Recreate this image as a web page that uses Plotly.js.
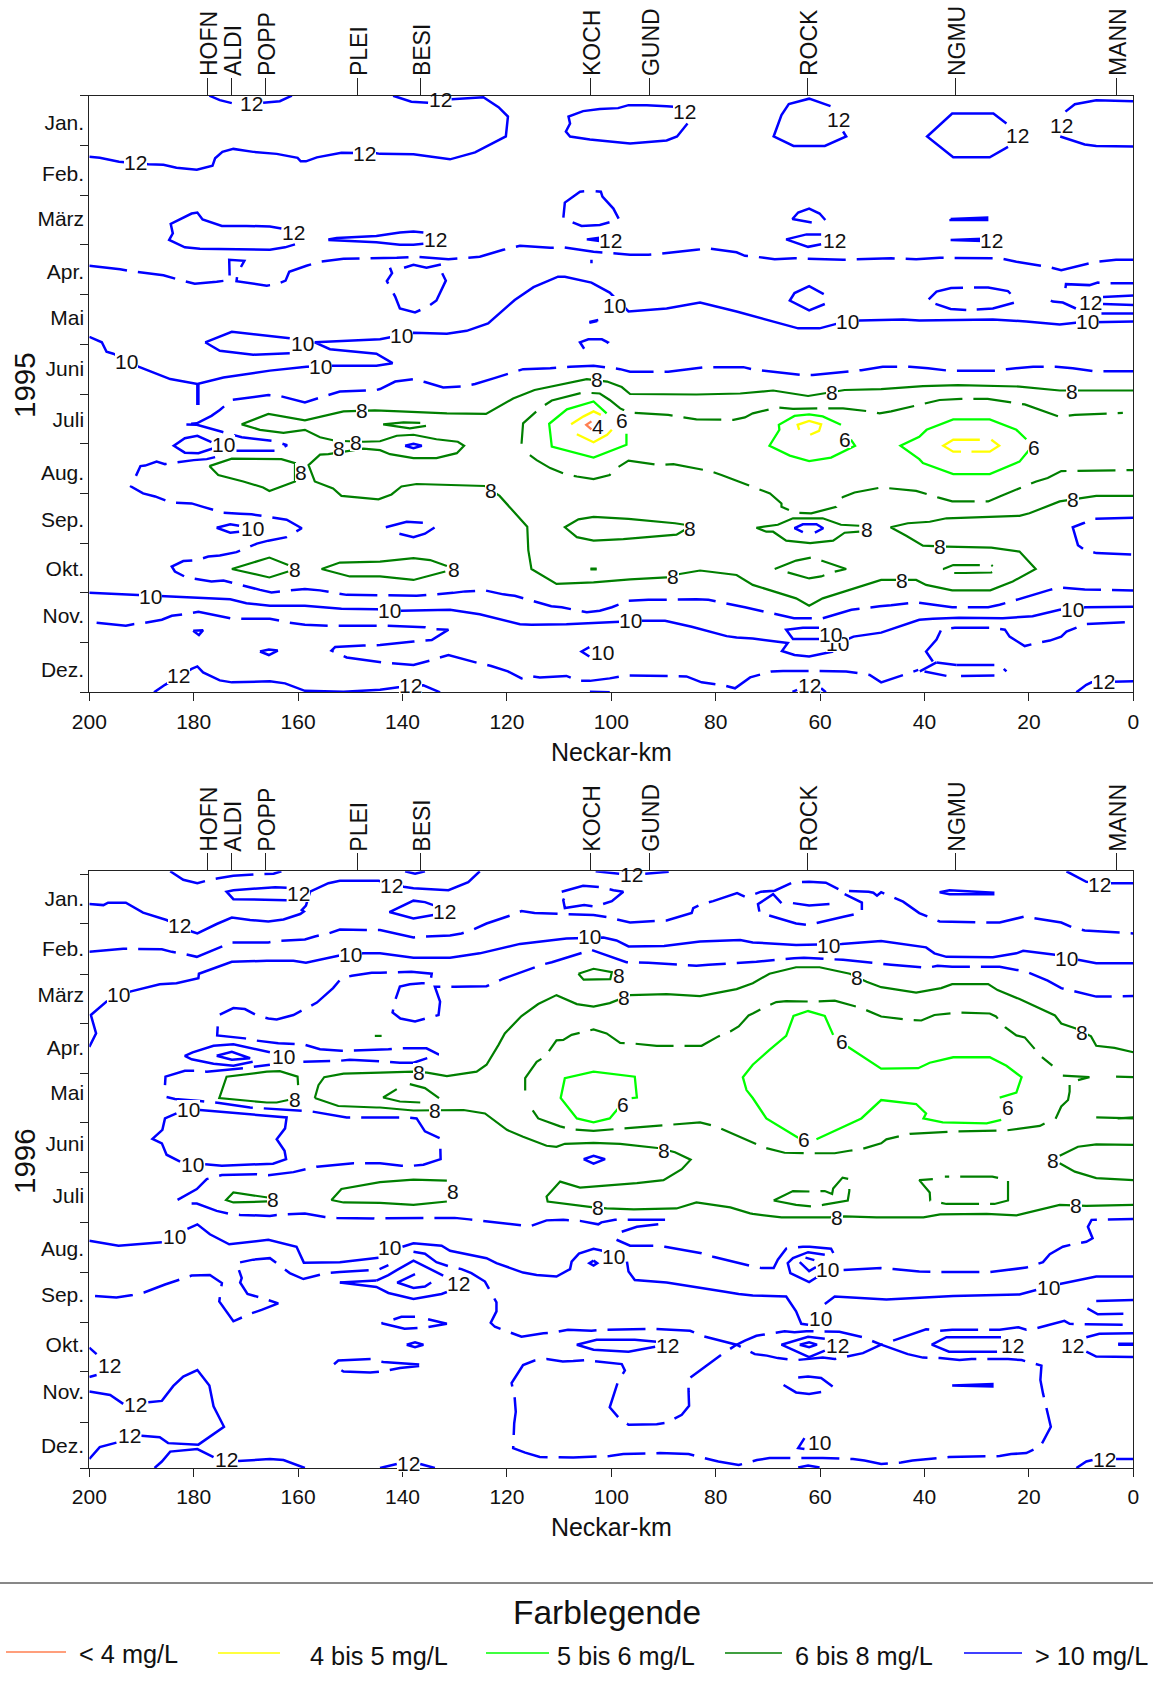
<!DOCTYPE html>
<html><head><meta charset="utf-8">
<script src="https://cdn.plot.ly/plotly-3.0.1.min.js"></script>
<style>html,body{margin:0;padding:0;background:#fff}#c{width:1153px;height:1686px}</style>
</head><body><div id="c"></div>
<script>
const monthNames=['Jan.','Feb.','März','Apr.','Mai','Juni','Juli','Aug.','Sep.','Okt.','Nov.','Dez.'];
const monthLabelPos=[.54,1.56,2.48,3.54,4.46,5.48,6.52,7.59,8.52,9.52,10.46,11.55];
const monthTicks95=[0,1,2,3,4,5,6,7,8,9,10,11,12];
const monthTicks96=[.06,1.05,2.07,3.06,4.07,5.05,6.05,7.07,8.06,9.07,10.05,11.08,12];
const kmTicks=[200,180,160,140,120,100,80,60,40,20,0];
const stationNames=['HOFN','ALDI','POPP','PLEI','BESI','KOCH','GUND','ROCK','NGMU','MANN'];
const stationKm=[177.3,172.8,166.3,148.6,136.5,103.9,92.7,62.45,34.1,3.3];

// contour lines: flat lists km,month,km,month,...
const blue95solid=[
[177,0,175,.09,172.7,.15],[166.7,.14,163.5,.11,161.2,0],
[200,1.23,198,1.25,194.3,1.33,188.7,1.38,185.8,1.39,183.3,1.45,179.4,1.49,176.4,1.41,175.9,1.26,174.5,1.13,172.4,1.07,168.6,1.13,164.1,1.17,160.1,1.25,159.5,1.32,158.5,1.32,156.4,1.24,151.7,1.15,145,1.16,144.3,1.17,137.9,1.18,133.8,1.23,130.9,1.28,126.1,1.14,120.2,.82,119.8,.42,121.6,.23,124.5,.03,130.6,.07],[135.1,.14,138.3,.12,141.8,0],
[85.4,.56,87.4,.82,89.4,.90,96.4,.96,104.1,.88,107.9,.82,108.7,.72,107.9,.56,108.2,.42,105.4,.31,102.2,.27,98.7,.25,96.7,.19,93.2,.19,89.4,.21,88,.22],
[58,.21,62.1,.06,66,.17,67.4,.39,68.9,.82,65.1,1.01,59.1,1.01,55,.82,55.6,.72],
[24.3,.56,26.8,.36,34.7,.36,39.5,.82,34.5,1.24,27.5,1.24,24,1.03],
[13,.32,11.2,.17,7.1,.09,0,.11],[14,.82,9.3,.98,7.1,1.01,0,1.02],
[163.2,2.67,165.4,2.63,169.9,2.62,174.6,2.62,178.3,2.49,179.3,2.35,180.4,2.37,184.4,2.58,184,2.77,184.7,2.9,181.7,3.05,178.8,3.08,165.4,3.1,162.5,3.05,160.6,2.99],
[154.2,2.89,152.6,2.86,145,2.82,140.5,2.75,137.9,2.73,136,2.75],[154.2,2.9,145,2.95,140.5,3,137.9,3,136,2.98],
[104.7,2.89,102.5,2.86,102.5,2.92,104.7,2.89],[103.8,3.3,103.8,3.37],
[61.6,2.55,64.2,2.5,65.3,2.48,64.2,2.35,62.1,2.27,60.1,2.37,59,2.5],
[59.8,2.79,62.6,2.79,66.5,2.89,62.3,3.04,59.8,2.99],
[35,2.48,28,2.45,28,2.5,35,2.5,35,2.48],[35,2.9,29,2.88,29,2.92,35,2.9],
[200,4.85,197.6,4.96,196.7,5.15,195.4,5.19,190.6,5.45,184.5,5.7,179.3,5.8,174.3,5.67,165.4,5.53,158.4,5.45,153.6,5.43,145,5.43,141.9,5.38,145,5.19,153.9,5.1,156.8,4.96,144.3,4.9,142.5,4.86,137.9,4.77,131.5,4.79,127.7,4.73,123.6,4.58,118.5,4.11,114.9,3.85,110.2,3.64,108.9,3.64,103.8,3.76,100.3,3.96,96.7,4.34,89.4,4.28,83,4.16,76,4.34,72.9,4.43,68.7,4.54,64.2,4.68,60.1,4.68,56.9,4.59,52.4,4.52,44.1,4.5,41,4.52,26.9,4.5,20.5,4.54,14.1,4.6,10.6,4.56,0,4.54],
[177.8,4.96,172.7,4.75,161.6,4.88],[161.6,5.18,168.6,5.21,175,5.13,177.8,4.96],
[179.3,5.8,179.3,6.22],[179.1,5.8,179.1,6.22],
[104.2,4.55,102.5,4.51,104.2,4.55],[104.2,4.57,102.7,4.53],
[59.3,3.99,62.1,3.83,64.9,3.97,65.8,4.12,62.1,4.32,59.1,4.19],
[15.8,4.12,15.4,4.14,13.5,4.16,11,4.28],[5.8,4.05,0,4.02],[5.8,4.19,0,4.21],[6.1,4.38,0,4.38],
[176.2,7.09,179.1,7.19,181.7,7.18,183.8,7.04,181.7,6.89,179.3,6.84,176.6,6.97],
[175.6,8.69,173,8.62,171.3,8.65],[171.3,8.77,173,8.79,175.6,8.69],
[180.1,10.76,179,10.85,178.2,10.75,180.1,10.76],[167.3,11.18,165.6,11.25,163.9,11.16,165.6,11.14,167.3,11.18],
[139.5,7.04,137.9,7,136.3,7.04,137.9,7.09,139.5,7.04],
[63.3,8.78,64.9,8.7,63.3,8.62,60.7,8.62,59.4,8.7,61,8.79],
[200,10,190.6,10.04,185.8,10.07,179.4,10.09,173,10.13,169.9,10.21,165.4,10.26,158.7,10.26,151.7,10.32,145,10.33,140.2,10.36,130.9,10.34,125.2,10.43,117.5,10.63,115.3,10.64,108.6,10.63,98.3,10.59,94.2,10.56,89.7,10.56,84.6,10.68,77.9,10.87,76,10.9,72.9,10.92,67.4,11,66.2,11.01,67.3,11.17,64.9,11.25,62.1,11.28,57.5,11.18],
[54.7,10.93,53.6,10.88,48.3,10.8,41,10.54,38.4,10.52,33.4,10.5,25,10.51,19.3,10.47,14.1,10.34,9.1,10.29,0,10.28],
[60.1,10.7,63.3,10.7,66.5,10.74,65.2,10.93,60.1,10.93],
[187.6,12,185.5,11.85,180.4,11.53,179.3,11.48,178.2,11.6,175,11.76,172.7,11.8,165.4,11.78,162.5,11.82,158.7,11.97,151.3,11.99,144.3,11.95,140.8,11.9,136,11.86,132.8,12],
[104.1,11.99,100.3,12],[104.2,11.09,105.7,11.18,104.2,11.28],
[65.3,11.99,64.4,11.95],[59.8,11.92,58.9,12],[10.9,12,9,11.85,8,11.8,3.3,11.78,0,11.78]
];
const blue95dash=[
[200,3.42,194.1,3.49,192.1,3.53,185.8,3.61,182.6,3.71,179.8,3.78,175.6,3.74,173.1,3.71,173.2,3.3,170.3,3.32,171.6,3.57,171.8,3.73,166,3.82,164.1,3.79,162.4,3.72,161.7,3.54,158.4,3.42,155.8,3.34,151.3,3.28,144.3,3.27,141.1,3.26,137.3,3.24,131.2,3.29,125.2,3.24,120.7,3.1,117.5,3.02,111.7,3.06,109.2,3.05,103.4,3.14,99.6,3.17,96.4,3.2,92.9,3.2,90.7,3.18,83.7,3.1,81.4,3.07,76,3.15,74.4,3.22,72.2,3.24,68.7,3.29,64.9,3.27,55.6,3.3,46.4,3.27,41.6,3.29,37.1,3.26,27.8,3.27,25.6,3.27,22.4,3.34,18.6,3.4,16.4,3.44,13.8,3.51,9.3,3.4,7.1,3.34,3.3,3.3,0,3.3],
[103,1.92,102,1.93,101.7,2.03,99.6,2.27,98.5,2.49,102.2,2.6,105.7,2.62,109.2,2.47,108.9,2.15,106,1.93,104.7,1.92],
[132.4,3.57,131.7,3.72,133.5,4.12,135.1,4.24,137.6,4.36,140.5,4.28,141.4,4.04,143,3.73,142,3.57,142.4,3.46],[139.7,3.46,137.9,3.4,135.4,3.46,132.5,3.39],
[30,4.3,26.9,4.28,22.7,4.16,23,4.04,24,3.93,27.8,3.86,30.4,3.86,32.3,3.86,34.9,3.87,37.7,3.94,39.5,4.13,35,4.29,32,4.31],
[13,3.87,12.9,3.79,8.4,3.81,6.8,3.76,4.8,3.77,0,3.77],
[165.1,6.94,170.8,6.87,174.6,6.76,179.4,6.62,182,6.61,179.4,6.59,176.6,6.44,175,6.32,172.7,6.12,165.7,6.02,163.5,6.04,158.7,6.17,154.2,6.02,152,5.95,145,5.92,144.3,5.9,141.4,5.75,137.9,5.7,135.7,5.76,132.2,5.87,128.7,5.85,126.1,5.8,122.4,5.68,120,5.6,116.9,5.5,111.7,5.48,107.9,5.45,103.4,5.43,100.5,5.47,98.3,5.5,96.4,5.55,91.3,5.55,89.1,5.55,86.8,5.52,82,5.46,79.8,5.46,74.7,5.46,72.7,5.51,71,5.53,63.3,5.62,61.4,5.62,54.3,5.55,52.1,5.52,48,5.45,42.8,5.45,39.3,5.48,35.5,5.53,26.3,5.53,24.3,5.5,19.2,5.45,14.8,5.45,11.6,5.48,7.7,5.54,0,5.54],
[105.2,5.09,106,4.96,104.4,4.9,101.8,4.9,100.7,4.96,102.5,5.11],
[171.8,7.14,164.1,7.14,162.1,7.03,163,7],
[175.9,7.27,177.5,7.31,180,7.33,185.5,7.41,187.1,7.36,189.3,7.44,190.2,7.45,192,7.86,189.7,8,187.4,8.06,184.4,8.18,180.4,8.2,178.2,8.27,174.3,8.39,171.1,8.41,168.9,8.42,162.2,8.53,159.3,8.7,162.2,8.88,165.7,8.95,167.9,9.01,171.8,9.18,175,9.25,177.2,9.27,179.4,9.34,182,9.36,184.2,9.47,183.6,9.57,181.4,9.69,176.6,9.77,174.3,9.75,171.8,9.82,167.3,9.94,165.1,9.99,158.7,9.92,155.8,9.95,150.7,10.04,142.7,10.05,137.3,10.06,130.3,10,128,9.97,124.2,9.95,120.7,10.03,118.5,10.06,111.5,10.27,109.5,10.29,104.7,10.39,102.2,10.36,99.9,10.29,96.7,10.16,92.9,10.14,83.7,10.13,81.4,10.14,74.4,10.29,72.2,10.34,65,10.51,59.5,10.51,54,10.34,48.6,10.27,46.4,10.25,41.6,10.19,37.1,10.25,34.7,10.29,27.8,10.29,25.6,10.24,16,9.94,14.1,9.89,9.3,9.93,0,9.95],
[143.2,8.68,139.2,8.57,136.1,8.59],[140.6,8.81,137.9,8.88,135.7,8.81,133.8,8.68],
[0,8.49,7.4,8.51,9.6,8.6,11.6,8.68,10.6,9.04,9.3,9.14,7.1,9.2,0,9.23],
[198.6,10.6,193,10.66,191.6,10.63,189.3,10.6,186.1,10.54,184.2,10.46,182,10.43,180.1,10.39,179.1,10.38,173,10.51,170.8,10.52,165.4,10.52,163.8,10.56,161.6,10.6,158.7,10.64,154.2,10.66,145,10.66,142.9,10.66,135.7,10.69,133.8,10.73,131.2,10.74,134.4,10.95,137.9,10.98,144.3,11.05,147.5,11.06,152.9,11.09,153.6,11.16,150.7,11.3,143.7,11.4,141.1,11.42,137.9,11.45,134.7,11.36,131.2,11.25,125.2,11.42,123,11.47,119.8,11.58,117.2,11.72,115.6,11.67,113.7,11.7,108.6,11.67,106.3,11.77,104.1,11.77,100.3,11.72,97.1,11.66,87.8,11.67,85.6,11.68,82.7,11.8,78.5,11.86,76.3,11.92,73.4,11.7,69.3,11.58,67.1,11.57,60.1,11.57,55,11.58,50.5,11.65,48.3,11.8,41.2,11.55],
[37.7,11.4,40.9,11.58],[33.9,11.45,37.7,11.4],[33.9,11.45,25.6,11.45,24.3,11.58],[40,11.58,35.8,11.67],[33,11.67,26.6,11.66],
[38.4,11.38,39.7,11.18,37.7,10.94,36.8,10.74,34.2,10.7,27,10.7,24.6,10.74,23.7,10.88,20.8,11.07,18.2,11,16,10.96,13.8,10.88,12.8,10.78,9.3,10.63,0,10.58]
];
const green95solid=[
[0,5.93,14.1,5.93,21.8,5.85,33.6,5.82,40.3,5.84,48.3,5.9,55.3,5.92,59.1,5.99,62.3,6.04,69,5.93,75.3,5.99,83.7,6.01,96.4,6,98,5.86,100.8,5.75,104.7,5.7,114.7,5.92,118.8,6.09,124,6.4,131.5,6.39,137.9,6.37,140.5,6.35,145.3,6.33,151.3,6.35,158.7,6.53,165.7,6.4,170.8,6.61,167.3,6.72,162.8,6.78,158.7,6.72,155.8,6.87,152.9,6.94,147.5,6.96,144.3,6.95,141.1,6.84,137.9,6.82,133.5,6.91,129.4,6.96,128.2,7.04,129.6,7.19,133.5,7.29,137.9,7.29,142.4,7.21,144.3,7.13,147.5,7.1,154.2,7.21,155.8,7.22,158,7.43,156.8,7.76,153.3,7.9,151.7,8.05,144.6,8.12,142.1,8.02,140.2,7.86,137.3,7.81,131.5,7.83,124.2,7.85,121.4,8.05,116.1,8.67,115.9,9.14,115.3,9.52,110.5,9.82,107.3,9.81,103.4,9.79,96.4,9.73,89.4,9.69,86.9,9.62,83,9.55,76,9.64,74.1,9.77,72.9,9.84,64.6,10.11,62.1,10.26,59.5,10.11,48.3,9.74,41.6,9.74,39.7,9.84,34.7,9.95,27.4,9.95,23.1,9.77,18.7,9.52,21.8,9.17,27.2,9.09,35.8,9.07,40.3,9.05,43.5,8.85,46.5,8.68,43.2,8.6,39,8.57,35.8,8.5,21.8,8.45,19.9,8.4,14.1,8.16,7.1,8.05,0,8.05],
[177,7.45,172.7,7.3,163.2,7.31,160.6,7.39,160.6,7.76,165.5,7.95,166.7,7.88,170.5,7.76,175.3,7.63,177,7.45],
[172.7,9.52,165.5,9.29,161.9,9.44],[172.7,9.52,165.5,9.69,161.9,9.57],
[131.5,9.46,134.7,9.34,137.9,9.3,144.3,9.37,152,9.39,155.5,9.52,150.1,9.67,144.3,9.67,137.9,9.74,131.8,9.57],
[136.6,6.58,139.8,6.57,143.7,6.61,138.6,6.69,135.5,6.64],
[85.9,8.63,87.8,8.6,96.7,8.51,103.4,8.47,106.3,8.52,108.9,8.68,106.6,8.88,103.4,8.95,97.7,8.92,87.5,8.83,85.9,8.73],
[104,9.51,102.8,9.51],[104,9.53,102.8,9.53],
[72.2,8.69,68.1,8.63,65.2,8.5,59.5,8.5,56,8.63,52.5,8.65],[52.5,8.77,55.3,8.79,57.5,8.95,61.9,9,66.5,8.95,69,8.77,70.3,8.77,72.2,8.69]
];
const green95dash=[
[117.2,7,116.9,6.59,113.7,6.29,111.4,6.13,105.4,5.97,102.2,5.99,100.3,6.12,98.3,6.29,96.7,6.37,92.9,6.39,89.1,6.42,83.7,6.51,76.6,6.52,74.4,6.47,72.9,6.39,68.1,6.27,65.2,6.3,60.1,6.29,55.6,6.29,50.5,6.35,48.6,6.39,46.4,6.35,39.4,6.17,37.1,6.12,33,6.1,27.9,6.1,20.8,6.21,18.6,6.29,14.1,6.46,11.2,6.42,9,6.41,2,6.38],
[115.6,7.23,114.3,7.33,111.7,7.49,108.9,7.61,106.6,7.66,103.4,7.71,100.3,7.63,99.6,7.53,96.7,7.34,90.7,7.43,88.1,7.41,81.1,7.55,78.9,7.63,71.9,7.9,69.6,8,67.4,8.2,67.4,8.27,64.6,8.39,61.7,8.4,56.9,8.27,56.6,8.15,55.6,8.07,53.4,7.98,48.3,7.88,46.4,7.9,41.6,7.95,37.1,8.09,34.7,8.16,27.8,8.16,25.6,8.06,18.6,7.76,16.4,7.69,13.8,7.55,0,7.53],
[68.7,9.52,64.6,9.35,61.7,9.29,59.5,9.36,55,9.52,57.5,9.58,59.8,9.67,62.1,9.71,66.8,9.57],
[29.4,9.44,34.5,9.44,36.4,9.52,34.5,9.6,32.3,9.6,27.2,9.59,26.1,9.52,27.2,9.44]
];
const lime95=[
[100.9,6.39,103.4,6.15,108.5,6.31,111.9,6.6,111.4,7.06,103.4,7.28,97.1,7.02,97.1,6.8],
[56,6.62,59.5,6.45,62.1,6.41,64.9,6.44,67.9,6.62,67.8,6.72,69.7,7.04,65.8,7.24,62.1,7.35,57.9,7.28,53.3,7.04,54.1,6.92],
[20.5,6.91,22.4,6.72,27.5,6.51,34.5,6.51,39.6,6.72,41,6.86,44.6,7.04,41,7.31,40.3,7.39,34.5,7.61,27.5,7.61,21.8,7.36,20,7.13]
];
const yellow95=[
[107.7,6.61,105.3,6.45,103.4,6.35,102,6.42],[99.9,6.72,100.8,6.82,103.4,6.97,106.6,6.81],
[64,6.72,64.3,6.62,62.1,6.54,59.8,6.61,60.2,6.74,61.9,6.82],
[29.4,6.92,34.5,6.92,36.4,7.04,34.5,7.16,33,7.16],[31,7.16,27.5,7.16,25.7,7.04,27.2,6.92]
];
const orange95=[[103.8,6.55,104.8,6.62,103.8,6.71]];
const labels95=[
['12',168.9,.14],['12',191.1,1.33],['12',147.2,1.16],['12',160.9,2.75],['10',159.1,4.98],['10',192.8,5.34],['10',155.8,5.44],['10',140.2,4.81],['12',132.8,.07],['12',85.9,.31],['12',133.6,2.88],['12',100.1,2.9],['10',99.3,4.21],['8',102.7,5.7],['12',56.4,.47],['12',22.1,.79],['12',13.8,.59],['12',57.3,2.9],['12',27.2,2.9],['10',54.7,4.53],['12',8.2,4.14],['10',8.7,4.54],['8',57.7,5.95],['8',11.7,5.93],
['8',147.8,6.33],['10',174.2,7],['8',152.1,7.09],['8',148.9,6.96],['8',159.5,7.56],['10',168.8,8.69],['8',160.6,9.52],['10',188.2,10.06],['10',142.4,10.34],['12',183,11.65],['4',102.6,6.64],['6',98,6.53],['8',123,7.93],['8',85,8.69],['8',130.1,9.51],['8',88.2,9.67],['10',96.4,10.55],['10',101.6,11.18],['12',138.4,11.85],['6',55.3,6.9],['6',19,7.06],['8',11.6,8.12],['8',51.1,8.71],['8',37.1,9.05],['8',44.3,9.74],['10',11.6,10.32],['10',56.6,11],['10',58,10.83],['12',62,11.85],['12',5.7,11.78]
];

const blue96solid=[
[162.2,.33,164.4,.32,172.4,.38,173.7,.41,172.4,.56,162.2,.58],
[200,.66,197.3,.68,196.4,.63,193,.63,189.7,.83,185.2,.98,180.4,1.21,179.3,1.25,175.6,1.06,172.7,.93,169.2,.98,165.7,1.01,162.8,.97,159.6,.86,158.9,.81,159.3,.78,158.5,.69,157.7,.41,154.2,.24,152,.19,144.6,.19,139.8,.31,137.9,.34,131.2,.38,127.4,.22,125.2,0],
[139.5,0,137.6,.05,135.7,0],
[134.1,.68,135.7,.62,137.9,.59,142.5,.82,137.9,.95,134.1,.88],
[103,0,98.5,.05],[93.5,.05,89,.01],
[26.6,.43,32,.39,35.2,.38,37.1,.42,35.2,.46,26.6,.46],
[12.8,0,9,.21,4.2,.24,0,.24],
[200,3.53,198.7,3.26,199.7,2.89,196.7,2.62,192.2,2.42,186.5,2.27,183.3,2.25,179.1,2.15,179,2.06,172.7,1.82,166,1.8,160.9,1.8,158.5,1.84,152.3,1.7,147.5,1.65,144.3,1.65,137.9,1.74,130.9,1.74,125.2,1.65,117.5,1.46,108.6,1.35,101.5,1.33,99,1.39,96.7,1.51,89.9,1.5,83,1.41,75.3,1.38,72.9,1.43,64.6,1.48,55.9,1.46,48.3,1.4,41,1.5,39.7,1.53,38.1,1.65,35.8,1.72,26.9,1.73,22.4,1.65,21.1,1.6,15,1.68,10.6,1.78,7.1,1.85,0,1.85],
[165.4,3.64,172.4,3.48,176.2,3.51,180.2,3.64,181.7,3.71,180.4,3.78,176.2,3.87,172.4,3.91,168.7,3.83],
[175.6,3.71,172.7,3.63,169.2,3.76,172.7,3.79,175.6,3.71],
[183.3,4.87,185.5,4.97,186,5.2,187.9,5.38,186.1,5.47,185.2,5.7,182.6,5.84],[177.8,5.89,174.6,5.92,164.8,5.88,162.3,5.79,162.6,5.62,164,5.4,164.1,5.39,162.5,5.17,162.2,4.95,178.8,4.8],
[200,7.43,194.4,7.53,186.1,7.46],[181.2,7.19,179.3,7.1,176.9,7.3,173.2,7.5,165.7,7.41,160.3,7.55,158.9,7.87,152,7.86,144.6,7.77],[140,7.55,137.9,7.48,132.5,7.53,130.9,7.63,123.9,7.78,122,7.88,116.9,8.07,114.3,8.12,110.5,8.15,107.9,8,107.6,7.85,106.2,7.69,103.4,7.59,101.7,7.63],[97,7.85,96.7,8.05,95.5,8.22,89.4,8.27,78.5,8.45,75.6,8.5,72.9,8.53,66.5,8.55,64.6,8.85,63.6,9.1,62.3,9.12],
[59.1,8.7,57.2,8.55,47.3,8.61,34.5,8.54,21.8,8.51,18.6,8.42],[14.1,8.3,7.1,8.15,0,8.15],
[105.3,5.79,103.4,5.72,101.2,5.79,103.4,5.88,105.3,5.79],
[200,10.46,196,10.53,193.5,10.71],[188.7,10.68,186.1,10.65,183.9,10.35,182,10.16,179.3,10.03,177,10.34,176.2,10.76,174.2,11.17,179.1,11.53,184.9,11.5,186.5,11.38,190,11.35],[194.8,11.49,198,11.58,200,11.82],
[187.5,12,186.1,11.87,184.5,11.67,179.3,11.62,176.2,11.78],[171.5,11.86,165.4,11.82,162.8,11.84,158.7,12],
[144.3,12,141.1,11.92],[136.6,11.92,133.8,12],
[145,8.23,142.7,8.12,141.1,8.02,137.9,7.83,132.2,8.13],[152,8.27,145,8.23],[152,8.27,145,8.36,142.7,8.48,140.5,8.53,137.9,8.6,132.5,8.5,131.5,8.46],
[137.6,8.1,141,8.27,137.9,8.38,135.7,8.35,134.5,8.27],
[139.2,9.52,137.6,9.47,136,9.52,137.6,9.57,139.2,9.52],
[91.3,9.46,95.5,9.42,102.8,9.42,106.6,9.52,103.4,9.62,96.7,9.66,91.6,9.56],
[103.4,7.83,102.7,7.88,103.4,7.93,104.2,7.88,103.4,7.83],
[59.1,9.4,62.3,9.36,67.4,9.52,62.1,9.77,59.1,9.64],[63.9,9.52,62.1,9.47,60.6,9.52,62.1,9.57,63.9,9.52],
[25,9.37,35.8,9.37,38.6,9.52,35.3,9.66,26.1,9.66],
[9,9.37,6.5,9.3,0,9.29],[9,9.66,7.1,9.76,0,9.77],[2.9,9.52,0,9.52],[2.9,9.5,0,9.5],
[7.1,8.64,0,8.62],[8.8,8.79,6.8,8.91,1.9,8.9],
[59.1,7.71,62.3,7.66,65.2,7.78,66.2,7.88,65.7,8.08,62.1,8.26,60.4,8.15],[62.8,7.77,61.1,7.82],[63.9,7.86,62.1,8.04,60.8,7.96],
[57.6,10.36,59.8,10.19,62.3,10.16,64.2,10.18],[67,10.33,64.6,10.48,62.1,10.51,59.8,10.47],
[34.7,10.34,27,10.31,27,10.36,34.7,10.34],[63,11.4,64.2,11.6,63,11.62],[64.2,11.99,62.3,11.95,60.1,11.99],
[10.9,12,9,11.87,7.8,11.84],[3.3,11.82,0,11.82]
];
const blue96dash=[
[184.5,0,182,.17,179.3,.24,176.9,.17,175.3,.14,172.4,.09,167.9,.06,164.7,.05,163.2,0],
[200,1.62,193.5,1.56,191.6,1.56,186.1,1.57,184.2,1.62,182.3,1.65,179.4,1.72,175,1.53,172.7,1.43,165.7,1.43,163.8,1.4,158.7,1.37,156.8,1.31,154.2,1.25,152,1.17,147.2,1.18,145,1.17,144.3,1.18,137.9,1.33,135.7,1.31,130.9,1.29,128.7,1.25,126.4,1.17,123.9,1.05,119.4,.89,117.2,.8,114.7,.84,110.5,.86,103.4,.88,100.9,.92,98.7,.97,96.4,1.03,91.6,1,89.4,.99,84.6,.84,84.3,.74,82.7,.66,80.5,.6,75.9,.44,74.4,.51,73.6,.5,71.3,.41,68.7,.39,65.2,.22,62.1,.21,58.9,.23,55.9,.39,50.7,.41,49.8,.43,49.1,.49,48.3,.42,46.4,.51,44.1,.61,41,.84,37.1,1.01,27.8,1.03,25.6,1.03,20.8,.91,18.6,.95,16.4,.99,13.8,1.03,11.6,1.13,9.3,1.19,0,1.25],
[109.5,.41,105.4,.29,101.9,.32,99.6,.38,97.7,.41,99.9,.6,103.1,.71,105.2,.68,108.9,.74,109.2,.58,108.6,.44,109.5,.41],
[67.4,.64,69,.46,71.9,.66,71.6,.83,64.6,1.05,62.3,1.08,55.3,.91,53.4,.86,52,.83,52,.63,55.3,.46],
[65.2,.64,62.1,.69,58.2,.66],
[175,2.88,172.4,2.75,170.2,2.77,167.9,2.9,165.7,2.96,164.1,2.98,160.9,2.89,158.7,2.77,156.4,2.64,153.3,2.35,151.7,2.15,149.7,2.1,145.9,2.04,144.3,2.04,140.5,2.03,138.3,2.02,134.4,2.06,134.7,2.25,136.3,2.25,138.6,2.27,140.5,2.32,141.4,2.59,141.9,2.84,140.4,2.96,137.6,3.02,133.1,2.89,132.8,2.62,133.8,2.32,130,2.32,123.9,2.31,120.7,2.16,118.5,2.08,113,1.87,111.4,1.83,109.2,1.76,103.8,1.58,102.2,1.64,99.9,1.73,97.1,1.83,92.9,1.84,83.7,1.9,81.4,1.88,74.4,1.84,72.2,1.82,65,1.75,63.1,1.74,55.6,1.78,46.4,1.88,39.4,1.94,37.5,1.9,34.7,1.92,25.6,1.92,20.5,2.02,18.6,2.1,16.4,2.2,13.8,2.35,9.3,2.47,7.1,2.52,0,2.51],
[175.4,3.12,175.5,3.3,170.2,3.36,168.3,3.4,163.8,3.46,159,3.48,155.8,3.58,151.7,3.61,142.7,3.58,140.5,3.56,135.4,3.56,133.1,3.68,137.9,3.85,140.5,3.85,142.7,3.83,150.1,3.79,152,3.81,159,3.83],
[185.5,4.3,185.4,4.13,181.7,4.01,179.8,4.01,177.5,4.03,170.5,3.96,165.4,3.89],
[185.2,4.54,183.6,4.58,178.8,4.62,175.1,4.66,169.2,4.75,166.7,4.77,161.6,4.8,157.4,4.83,150.7,4.95,141.1,4.95,138.9,4.95,137.3,4.97,135.7,5.23,132.8,5.37,132.8,5.64,132.7,5.79,136,5.9,137.9,5.92,140.2,5.92,144.3,5.87,147.2,5.87,149.4,5.87,156.4,5.94,158.7,5.99,160.9,6.05,165.7,6.11,167.9,6.09,174.6,6.11,177.5,6.19,179.4,6.39,183.3,6.62],
[180.4,6.68,179.4,6.68,175.6,6.83,173,6.89,171.1,6.91,165.4,6.93,164.1,6.91,161.9,6.9,158.7,6.88,154.9,6.95,152.6,6.97,145.6,6.98,137.9,6.98,130,6.97,127.2,7,117.9,7.11,115.6,7.14,112.4,7.02,109.2,7.01,106,7.03,103.4,7.08,102.5,7.1,101.9,7.06,99.3,7.01,89.7,7.01],
[98,7.25,95.1,7.15,91,7.1],
[99,7.41,96.4,7.53,91.9,7.53,89.7,7.55,82.7,7.68,80.5,7.75,73.2,7.94,71.2,7.98,68.9,7.98,68.1,7.81,66.5,7.59,63.3,7.55,62,7.55,57.9,7.59,57.2,7.73],
[55.5,8.02,48.3,7.98,46,8,41,8.05,36.8,8.06,29.8,8.06,27.5,8.06,20.5,7.97,18.2,7.9,17.3,7.86,16,7.7,13.5,7.55,11.2,7.49,9,7.45,7.8,7.38,8.7,7.15,8,7.01,5.5,7,0,6.99],
[198.9,8.54,194.8,8.57,191.7,8.52,189.5,8.47,185.5,8.31,182.6,8.2,180.4,8.13,176.9,8.12,174.6,8.28,174.8,8.42,175.1,8.65,172.4,9.05,169.2,8.9,167,8.82,163.8,8.69,167.3,8.57,169.7,8.5,171.1,8.27,170.8,8.18,171.8,7.88,168.6,7.81,165.4,7.78,161.6,8.08,159,8.2,154.5,8.08,152,8.06,144.6,8.01,142.7,7.92],
[43.2,9.71,48.3,9.52,51.8,9.37,53.7,9.32,56.3,9.26,62.6,9.25,64.9,9.27,66.8,9.25,69.4,9.3,72.2,9.34,74.4,9.44,76.3,9.54,78.5,9.69,82.4,9.99,85.2,10.21,85.2,10.46,85.1,10.75,86.5,10.93,89.4,11.09,91.3,11.12,96.7,11.13,98.5,11,100.3,10.78,98.7,10.26,97.4,10.04,98,9.91,105,9.83,107.3,9.85,109.3,9.86,112.4,9.81,114.7,9.84,116.9,9.93,119.1,10.29,118.5,10.6,118.3,10.87,118.6,11.1,118.8,11.6,116.5,11.69,113.7,11.78,107.3,11.79,100.3,11.76,97.7,11.72,90.7,11.7,85.2,11.72,81.4,11.82,79.5,11.87,75.6,11.94,72.1,11.84,69.7,11.8,59.5,11.8,53.7,11.82,51.5,11.85,48.3,11.92,44.5,11.89,42.3,11.85,35.3,11.78,25.6,11.76,23.4,11.72,20.5,11.7,17.9,11.57,17.3,11.47,15.8,11.17,17.3,10.5,17.8,10.23,17.6,9.94,21.4,9.83,24,9.81,31,9.81,33.3,9.83,37,9.79,40.3,9.78,43.2,9.71],
[137.9,7.65,135.7,7.69,133.5,7.86,131.2,7.94,128.7,8,126.8,8.08,124.2,8.25,123,8.47,122,8.67,122,8.85,123.1,9.08,122.3,9.16,119.8,9.26,117.2,9.36,113,9.29,110.7,9.27,108.3,9.22,103.8,9.24,101.4,9.22,94.5,9.2,92.3,9.2,84.9,9.24,82.7,9.34,76,9.52,72.5,9.71,70.2,9.74,68.1,9.79,64.6,9.83,59.5,9.78,57.2,9.81,51.8,9.69,48.3,9.52,44.1,9.37,41.6,9.29,39.7,9.21,37.1,9.24,34.7,9.22,25.6,9.22,22,9.17,20.5,9.22,18.6,9.19,16.4,9.13,13.2,9.04,12.2,9.1,9,9.11,0,9.12],
[135.1,9.01,131.5,9.1,135.4,9.17,139.6,9.2,144,9.09,140.2,8.96,137.6,8.96],
[136.8,9.92,143.7,9.87,146.1,9.81,152.3,9.84,153.3,9.93,151.3,10.06,146.2,10.08,144,10.06,140.5,9.99,136.8,9.95],
[200,9.58,198.6,9.71],[200,10.17,198.6,10.13]
];
const green96solid=[
[106.3,2.06,103.4,1.96,99.9,2.03,100.2,2.17,105.3,2.18,106.3,2.06],
[156.8,4.56,156.1,4.3,155,4.14,151.3,4.07,144.3,4.05,137.9,4.03,135.3,4.05,131.5,4.12,125.8,4.03,123.9,3.89,121.6,3.49,120.4,3.26,117.2,2.91,114,2.67,110.5,2.49,106.6,2.67,103.4,2.72,100.3,2.65,96.4,2.49,89.4,2.47,83,2.51,76,2.37,72.9,2.25,69.7,2.06,64.6,1.93,60.1,1.93,54.3,2.06,51.1,2.22,48.3,2.33,41.6,2.44,36.8,2.35,34.7,2.27,27.8,2.27,26,2.39,21.8,2.57,18.6,2.72,15,2.9,13.8,3.06,11,3.16,8.1,3.32,7.1,3.51,3.6,3.55,0,3.64],
[156.8,4.56,152.3,4.72,145,4.75,144.3,4.75,137.9,4.81,132.2,4.81,128.3,4.8,124.2,4.87,120.7,5.13,120,5.2,116.9,5.34,112.4,5.52,110.5,5.54,108.9,5.48,103.4,5.46,98.3,5.48,90.7,5.57,87.8,5.65,84.8,5.8,86.5,5.99,90,6.21,95.1,6.27,106,6.36,109.8,6.24,112.4,6.54,112.2,6.64,103.4,6.76,100.9,6.78,95.7,6.8,87.5,6.78,83.7,6.66,77.2,6.76,73.4,6.88,72.9,6.89,67.4,6.96,58.2,6.96,55.3,6.94,49.2,6.96,40.2,6.96,37,6.9,28.1,6.89,22.4,6.92,14.1,6.71,9,6.73,0,6.71],
[160,4.3,160.1,4.13,163.5,4.02,166,4.03,173.7,4.13,175.1,4.56,166,4.65,164.1,4.65,161.9,4.6],
[141.1,4.38,143.7,4.55,140.5,4.63,136.6,4.65],[138.6,4.28,135.7,4.36,133,4.56],
[145.3,3.31,144,3.31],
[165.8,6.56,172.4,6.46,173.8,6.61,172.4,6.66,165.8,6.64],
[131.5,6.22,137.9,6.2,144.3,6.25,151.7,6.39,153.6,6.61,151.3,6.66,144.3,6.67,137.9,6.71,131.5,6.64],
[13.5,4.11,8.4,4.14,10.6,4.2],[3.3,4.13,0,4.14],[7.1,4.95,0,4.97],[3,4.97,0,4.95],
[14.1,5.72,10.6,5.54,7.1,5.49,0,5.5],[14.1,5.87,11.2,6.04,7.1,6.17,0,6.21]
];
const green96dash=[
[116.5,4.41,116.5,4.16,114.3,3.83,112.7,3.73,110.5,3.4,109.2,3.39,107.6,3.29,103.4,3.18,100.9,3.26,98.3,3.45,96.1,3.46,91.3,3.51,86.8,3.51,82.7,3.51,79.5,3.32,77.2,3.22,75.6,3.12,73.7,2.9,72.9,2.86,70.6,2.73,68.4,2.63,66.5,2.61,61.4,2.62,57.2,2.6,52.1,2.75,49.9,2.84,48.3,2.92,42.8,2.99,40.6,3,38.1,2.89,33.3,2.84,27.5,2.86,26.3,2.92,24.5,3.14,22.4,3.3,20.8,3.34,17.6,3.73,15.5,3.91],
[12.2,4.3,12.2,4.43,12.5,4.6,13.8,4.73,14.9,4.98],[17,5.07,17.9,5.12,24.3,5.21,33.5,5.23,42.8,5.28,47.3,5.39,48.3,5.47,52.1,5.59,54.4,5.62,57.2,5.67,61.4,5.67,66.8,5.66,70.6,5.56,80,5.13,83,5.05,89.4,5.1,91.3,5.12,98.3,5.17,100.6,5.19,103.4,5.22,107.6,5.19,109.8,5.13,114,4.97,116.2,4.63],
[68.9,6.62,65.2,6.43,61.8,6.44,59.1,6.43,57.7,6.49,57.5,6.38,55.7,6.16,54.4,6.19,54.4,6.43,54.7,6.62,59.5,6.71,61.7,6.74,64.6,6.71,68.9,6.62],
[38.4,6.19,41,6.21,39,6.46,38.9,6.62,35.8,6.69,26.6,6.69,24,6.62,24,6.21,27,6.14,36.1,6.14]
];
const lime96=[
[96.1,4.56,95.1,4.55,95.5,4.13,103.4,4.03,108.9,4.16,109.7,4.56,106.6,4.97,103.4,5.05,100.3,4.97,98.7,4.77],
[57.5,3.29,59.1,2.91,62.3,2.81,65.1,2.91,66.5,3.31,69.7,3.59,72.9,3.89,74.8,4.14,74.1,4.4,72.9,4.56,70.3,4.97,64.2,5.36],
[60.7,5.39,52.1,4.97,48.3,4.6,41.6,4.68,39.7,4.87,40.2,4.97,36.5,5.05,28.1,5.07,25.3,5],
[25.6,4.55,22.4,4.45,21.4,4.14,24.3,3.91,27.5,3.74,34.5,3.74,39,3.85,41.2,3.96,48.3,3.97,54.7,3.53]
];
const labels96=[
['12',160,.43],['12',182.8,1.08],['10',194.4,2.47],['10',162.8,3.71],['8',160.6,4.58],['10',181,4.79],['12',142.1,.27],['12',131.9,.79],['12',96.1,.05],['10',104.1,1.3],['10',149.9,1.66],['8',98.5,2.08],['8',97.6,2.52],['8',136.8,4.03],['8',133.8,4.81],['6',97.7,4.68],['12',6.5,.25],['10',58.3,1.48],['10',12.8,1.74],['8',52.9,2.13],['8',9.8,3.24],['6',55.9,3.42],['6',24,4.75],['6',63,5.39],
['10',180.2,5.88],['8',164.8,6.59],['10',183.6,7.33],['12',196.2,9.93],['12',191.1,10.71],['12',192.3,11.33],['12',173.7,11.82],['10',142.4,7.55],['12',138.9,11.9],['12',129.3,8.27],['8',130.4,6.42],['8',102.5,6.76],['8',89.9,5.6],['10',99.6,7.74],['12',89.3,9.52],['8',15.4,5.8],['8',56.8,6.96],['8',10.9,6.71],['10',58.5,8],['10',60,8.98],['10',16.3,8.36],['12',56.6,9.52],['12',23.1,9.52],['12',11.7,9.52],['10',60.2,11.47],['12',5.5,11.82]
];
const legendItems=[['< 4 mg/L','#ff7f50'],['4 bis 5 mg/L','#ffff00'],['5 bis 6 mg/L','#00ff00'],['6 bis 8 mg/L','#007f00'],['> 10 mg/L','#0000ff']];

const FONT='"Liberation Sans",Arial,sans-serif';
const BLUE='#0000ff',GREEN='#007f00',LIME='#00ff00',YEL='#ffff00',ORG='#ff7f50';
const DASH='38px,11px';
function tr(list,color,width,dash,xa,ya){
  const x=[],y=[];
  list.forEach(p=>{for(let i=0;i<p.length;i+=2){x.push(p[i]);y.push(p[i+1]);}x.push(null);y.push(null);});
  return {type:'scatter',mode:'lines',x,y,xaxis:xa,yaxis:ya,hoverinfo:'skip',showlegend:false,connectgaps:false,
    line:{color,width,dash:dash||'solid',shape:'linear'}};
}
const W=1153,H=1686,L=89.3,R=1133.3;
const T1=95.7,B1=692.3,T2=871.3,B2=1468;
const data=[
 tr(blue95solid,BLUE,2.5,null,'x','y'),tr(blue95dash,BLUE,2.5,DASH,'x','y'),
 tr(green95solid,GREEN,2.2,null,'x','y'),tr(green95dash,GREEN,2.2,DASH,'x','y'),
 tr(lime95,LIME,2.3,null,'x','y'),tr(yellow95,YEL,2.3,null,'x','y'),tr(orange95,ORG,2.3,null,'x','y'),
 tr(blue96solid,BLUE,2.5,null,'x2','y2'),tr(blue96dash,BLUE,2.5,DASH,'x2','y2'),
 tr(green96solid,GREEN,2.2,null,'x2','y2'),tr(green96dash,GREEN,2.2,DASH,'x2','y2'),
 tr(lime96,LIME,2.3,null,'x2','y2'),
 {type:'scatter',x:[0],y:[0],xaxis:'x3',yaxis:'y',mode:'none',hoverinfo:'skip',showlegend:false},
 {type:'scatter',x:[0],y:[0],xaxis:'x4',yaxis:'y2',mode:'none',hoverinfo:'skip',showlegend:false}
];
const tickFont={family:FONT,size:21,color:'#111'};
function xA(anchor){return {domain:[L/W,R/W],range:[200,0],anchor,tickmode:'array',tickvals:kmTicks,ticktext:kmTicks.map(String),
  ticks:'outside',ticklen:8,tickwidth:1,tickcolor:'#222',showline:true,linecolor:'#222',linewidth:1,mirror:true,zeroline:false,showgrid:false,tickfont:tickFont,
  ticklabelstandoff:2,title:{text:'Neckar-km',font:{family:FONT,size:25,color:'#111'},standoff:11}};}
function topA(anchor,over){return {domain:[L/W,R/W],range:[200,0],anchor,overlaying:over,side:'top',tickmode:'array',tickvals:stationKm,ticktext:stationNames,tickangle:-90,
  ticks:'outside',ticklen:17,tickwidth:1,tickcolor:'#222',showline:false,zeroline:false,showgrid:false,ticklabelstandoff:-3,ticklabelshift:-2,tickfont:{family:FONT,size:23,color:'#111'}};}
function yA(t,b,anchor,ticks){return {domain:[1-b/H,1-t/H],range:[12,0],anchor,tickmode:'array',tickvals:monthLabelPos,ticktext:monthNames,ticks:'',
  minor:{tickmode:'array',tickvals:ticks,ticks:'outside',ticklen:8,tickwidth:1,tickcolor:'#222',showgrid:false},
  showline:true,linecolor:'#222',linewidth:1,mirror:true,zeroline:false,showgrid:false,tickfont:tickFont,ticklabelstandoff:0};}
function lab(list,xa,ya){return list.map(l=>({x:l[1],y:l[2],xref:xa,yref:ya,text:l[0],showarrow:false,font:{family:FONT,size:21,color:'#111'},
  bgcolor:l[2]<.2?'rgba(0,0,0,0)':'#fff',borderpad:0,borderwidth:0,height:18,xanchor:'center',yanchor:'middle',align:'center',valign:'middle'}));}
const legX=[[6,66,77],[218,280,308],[486,549,555],[725,782,793],[964,1022,1033]];
const legY=[1652,1653,1653,1653,1653],legTY=[1654,1656,1656,1656,1656];
const paperTxt=(text,x,y,size,anchor,rot)=>({xref:'paper',yref:'paper',x:x/W,y:1-y/H,text,showarrow:false,textangle:rot||0,
  xanchor:anchor||'left',yanchor:'middle',font:{family:FONT,size,color:'#111'}});
const shapes=[{type:'line',xref:'paper',yref:'paper',x0:0,x1:1,y0:1-1583/H,y1:1-1583/H,line:{color:'#111',width:1}}];
legendItems.forEach((it,i)=>shapes.push({type:'line',xref:'paper',yref:'paper',x0:legX[i][0]/W,x1:legX[i][1]/W,y0:1-legY[i]/H,y1:1-legY[i]/H,line:{color:it[1],width:1.6}}));
const annotations=[...lab(labels95,'x','y'),...lab(labels96,'x2','y2'),
  paperTxt('1995',24,385,29.5,'center',-90),paperTxt('1996',24,1161,29.5,'center',-90),
  paperTxt('Farblegende',607,1612,33.5,'center'),
  ...legendItems.map((it,i)=>paperTxt(it[0],legX[i][2],legTY[i],25.3,'left'))];
const layout={width:W,height:H,margin:{l:0,r:0,t:0,b:0,pad:0},paper_bgcolor:'#fff',plot_bgcolor:'#fff',showlegend:false,hovermode:false,
  xaxis:xA('y'),yaxis:yA(T1,B1,'x',monthTicks95),xaxis2:xA('y2'),yaxis2:yA(T2,B2,'x2',monthTicks96),
  xaxis3:topA('y','x'),xaxis4:topA('y2','x2'),shapes,annotations};
Plotly.newPlot('c',data,layout,{displayModeBar:false,responsive:false});
</script></body></html>
